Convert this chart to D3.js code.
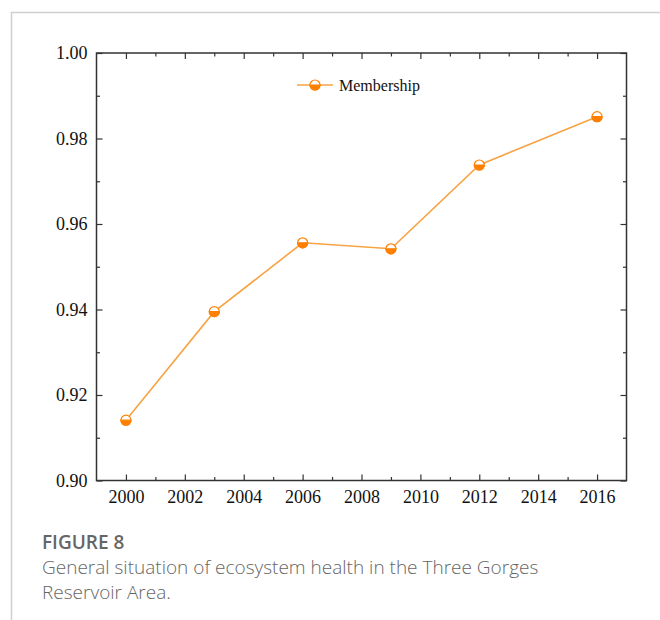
<!DOCTYPE html>
<html>
<head>
<meta charset="utf-8">
<script src="https://cdn.jsdelivr.net/npm/d3@7"></script>
<style>
  html, body { margin: 0; padding: 0; background: #fff; }
  svg { display: block; }
  .tick text { font-family: "Liberation Serif", "Times New Roman", serif; font-size: 18px; fill: #111; }
</style>
</head>
<body>
<svg id="chart" width="660" height="620"></svg>
<script>
// Ecosystem health membership by year
const years = [2000, 2003, 2006, 2009, 2012, 2016];
const membership = [0.9141, 0.9395, 0.9556, 0.9542, 0.9738, 0.9851];
const xTickValues = [2000, 2002, 2004, 2006, 2008, 2010, 2012, 2014, 2016];
const yTickValues = [0.90, 0.92, 0.94, 0.96, 0.98, 1.00];
const seriesName = "Membership";
const captionTitle = "FIGURE 8";
const captionLines = [
  "General situation of ecosystem health in the Three Gorges",
  "Reservoir Area."
];

const svg = d3.select("#chart");
const m = { left: 96.5, right: 626.5, top: 53, bottom: 480.5 };

const x = d3.scaleLinear().domain([1999, 2017]).range([m.left, m.right]);
const y = d3.scaleLinear().domain([0.90, 1.00]).range([m.bottom, m.top]);

// page frame
svg.append("path")
  .attr("d", "M11.5,620 V12.5 H660")
  .attr("fill", "none").attr("stroke", "#cfcfcf").attr("stroke-width", 1.5);

const axisColor = "#333";
const serif = "'Liberation Serif', 'Times New Roman', serif";

// minor tick values
const xMinor = d3.range(2000, 2017, 1).filter(v => !xTickValues.includes(v));
const yMinor = d3.range(0.91, 1.0, 0.02).map(v => +v.toFixed(2));

function styleAxis(g) {
  g.attr("font-family", null).attr("font-size", null);
  g.select(".domain").remove();
  g.selectAll(".tick line").attr("stroke", axisColor).attr("stroke-width", 1.2);
}

// bottom axis with labels
svg.append("g").attr("transform", `translate(0,${m.bottom})`)
  .call(d3.axisBottom(x).tickValues(xTickValues).tickSize(-6).tickPadding(10).tickFormat(d3.format("d")))
  .call(styleAxis);
svg.append("g").attr("transform", `translate(0,${m.bottom})`)
  .call(d3.axisBottom(x).tickValues(xMinor).tickSize(-3.5).tickFormat(""))
  .call(styleAxis);

// top axis
svg.append("g").attr("transform", `translate(0,${m.top})`)
  .call(d3.axisTop(x).tickValues(xTickValues).tickSize(-6).tickFormat(""))
  .call(styleAxis);
svg.append("g").attr("transform", `translate(0,${m.top})`)
  .call(d3.axisTop(x).tickValues(xMinor).tickSize(-3.5).tickFormat(""))
  .call(styleAxis);

// left axis with labels
svg.append("g").attr("transform", `translate(${m.left},0)`)
  .call(d3.axisLeft(y).tickValues(yTickValues).tickSize(-6).tickPadding(9).tickFormat(d3.format(".2f")))
  .call(styleAxis);
svg.append("g").attr("transform", `translate(${m.left},0)`)
  .call(d3.axisLeft(y).tickValues(yMinor).tickSize(-3.5).tickFormat(""))
  .call(styleAxis);

// right axis
svg.append("g").attr("transform", `translate(${m.right},0)`)
  .call(d3.axisRight(y).tickValues(yTickValues).tickSize(-6).tickFormat(""))
  .call(styleAxis);
svg.append("g").attr("transform", `translate(${m.right},0)`)
  .call(d3.axisRight(y).tickValues(yMinor).tickSize(-3.5).tickFormat(""))
  .call(styleAxis);

// plot frame
svg.append("rect")
  .attr("x", m.left).attr("y", m.top)
  .attr("width", m.right - m.left).attr("height", m.bottom - m.top)
  .attr("fill", "none").attr("stroke", axisColor).attr("stroke-width", 1.5);

const lineColor = "#F7A343";
const markColor = "#FF8000";
const data = years.map((yr, i) => ({ yr, v: membership[i] }));

svg.append("path").datum(data)
  .attr("fill", "none").attr("stroke", lineColor).attr("stroke-width", 1.6)
  .attr("d", d3.line().x(d => x(d.yr)).y(d => y(d.v)));

// half-filled circle marker
const r = 5;
function marker(g, cx, cy) {
  g.append("circle").attr("cx", cx).attr("cy", cy).attr("r", r)
    .attr("fill", "#fff").attr("stroke", markColor).attr("stroke-width", 1.2);
  g.append("path")
    .attr("d", `M${cx - r},${cy} A${r},${r} 0 0 0 ${cx + r},${cy} Z`)
    .attr("fill", markColor).attr("stroke", markColor).attr("stroke-width", 1.2);
}
const marks = svg.append("g");
data.forEach(d => marker(marks, x(d.yr), y(d.v)));

// legend
const lg = svg.append("g");
lg.append("line").attr("x1", 297).attr("x2", 333).attr("y1", 85).attr("y2", 85)
  .attr("stroke", lineColor).attr("stroke-width", 1.6);
marker(lg, 315, 85);
lg.append("text").attr("x", 339).attr("y", 90.5)
  .style("font-family", serif).style("font-size", "16px").style("fill", "#111")
  .text(seriesName);

// caption
const sans = "'Open Sans', 'Noto Sans', sans-serif";
svg.append("text").attr("x", 42).attr("y", 549)
  .style("font-family", sans).style("font-size", "19px").style("font-weight", 600).style("fill", "#666")
  .text(captionTitle);
captionLines.forEach((t, i) => {
  svg.append("text").attr("x", 42).attr("y", 574 + i * 25)
    .style("font-family", sans).style("font-size", "19px").style("font-weight", 300).style("fill", "#666")
    .text(t);
});
</script>
</body>
</html>
